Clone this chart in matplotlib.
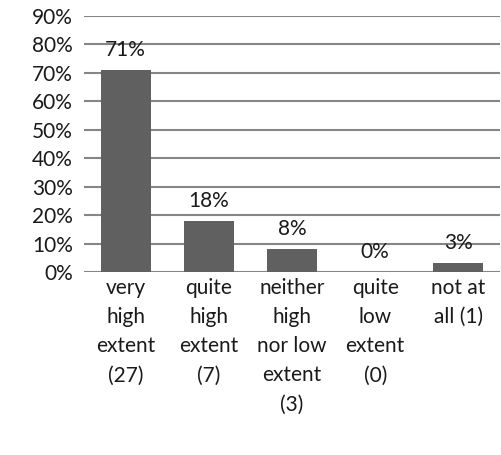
import matplotlib
matplotlib.use("Agg")
import matplotlib.pyplot as plt
import numpy as np

plt.rcParams['font.family'] = ['Lato', 'DejaVu Sans']

categories = ['very\nhigh\nextent\n(27)', 'quite\nhigh\nextent\n(7)',
              'neither\nhigh\nnor low\nextent\n(3)', 'quite\nlow\nextent\n(0)',
              'not at\nall (1)']
values = [71, 18, 8, 0, 3]
yticks = np.arange(0, 100, 10)

fig = plt.figure(figsize=(5.01, 4.55), dpi=100)
ax = fig.add_axes([84 / 501, 1 - 272 / 455, (500 - 84) / 501, (272 - 16) / 455])

x = np.arange(len(values))
ax.bar(x, values, width=0.6, color='#606060', zorder=3)
for xi, v in zip(x, values):
    ax.annotate(f'{v}%', (xi, v), xytext=(0, 14.5), textcoords='offset points',
                ha='center', va='center', fontsize=15, color='#1a1a1a', zorder=4)

ax.set_xlim(-0.5, len(values) - 0.5)
ax.set_ylim(0, 90)
ax.set_yticks(yticks)
ax.set_yticklabels([f'{t}%' for t in yticks])
ax.yaxis.grid(True, color='#868686', linewidth=1.5, zorder=0)
ax.set_xticks(x)
ax.set_xticklabels(categories, linespacing=1.58, va='top')
ax.tick_params(axis='both', length=0, labelsize=15, colors='#1a1a1a')
ax.tick_params(axis='x', pad=4)
ax.tick_params(axis='y', pad=8)
for s in ax.spines.values():
    s.set_visible(False)

fig.savefig('out.png', dpi=100)
